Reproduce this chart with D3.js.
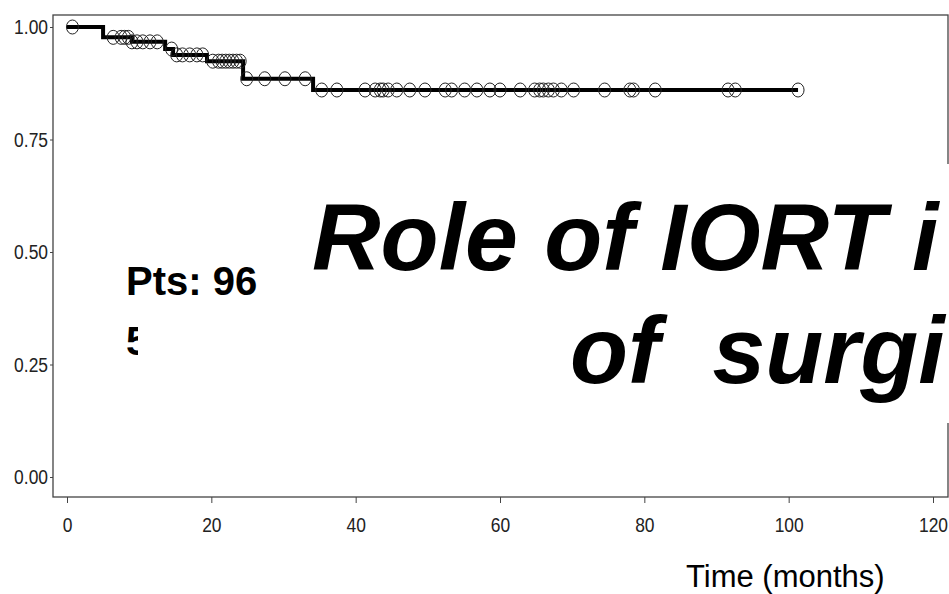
<!DOCTYPE html>
<html>
<head>
<meta charset="utf-8">
<script src="https://cdn.jsdelivr.net/npm/d3@7"></script>
<style>
  body { margin: 0; background: #fff; }
  svg { display: block; }
</style>
</head>
<body>
<div id="km_chart"></div>
<script>
// Kaplan-Meier step values
var stepTimes = [0, 5.0, 9.0, 13.6, 14.7, 19.4, 24.4, 34.1];
var survival  = [1.000, 0.977, 0.967, 0.951, 0.938, 0.924, 0.885, 0.860];
var followUpEnd = 101.3;

// censored patients (months)
var censorTimes = [0.75, 6.4, 7.5, 8.0, 8.5, 9.0, 9.7, 10.5, 11.5, 12.5, 14.5,
    15.2, 16.0, 17.0, 18.0, 18.8, 20.2, 21.0, 21.5, 22.0, 22.5, 23.0, 23.5, 24.0,
    24.9, 27.4, 30.2, 33.0, 35.3, 37.4, 41.3, 42.7, 43.4, 43.8, 44.5, 45.7, 47.5,
    49.6, 52.4, 53.3, 55.1, 56.8, 58.6, 60.0, 62.8, 64.8, 65.5, 66.0, 66.7, 67.4,
    68.5, 70.2, 74.5, 78.0, 78.5, 81.5, 91.6, 92.6, 101.3];

var xTicks = [0, 20, 40, 60, 80, 100, 120];
var yTicks = [0, 0.25, 0.5, 0.75, 1];
var xTitle = "Time (months)";
var ptsLines = ["Pts: 96", "5"];
var titleLines = ["Role of IORT i", "of  surgi"];

var width = 949, height = 594;
var svg = d3.select("#km_chart").append("svg")
    .attr("width", width)
    .attr("height", height);

var x = d3.scaleLinear().domain([0, 120]).range([67, 933]);
var y = d3.scaleLinear().domain([0, 1]).range([477, 27]);

var frame = {left: 53, top: 15, right: 948, bottom: 497};
var sans = "'Liberation Sans', Arial, sans-serif";
var narrow = 0.83; // tick labels are a condensed face, squeeze Liberation Sans

// plot frame
svg.append("rect")
    .attr("x", frame.left).attr("y", frame.top)
    .attr("width", frame.right - frame.left)
    .attr("height", frame.bottom - frame.top)
    .style("fill", "none")
    .style("stroke", "#444")
    .style("stroke-width", "1.3px");

// y axis (ticks + labels on the left of frame)
var yAxis = d3.axisLeft(y).tickValues(yTicks).tickFormat(d3.format(".2f"))
    .tickSize(3);
var gy = svg.append("g").attr("transform", "translate(" + frame.left + ",0)").call(yAxis);
gy.select(".domain").remove();
gy.selectAll("line").style("stroke", "#444");
gy.selectAll("text")
    .attr("x", 0)
    .attr("transform", "translate(-5,0) scale(" + narrow + ",1)")
    .style("font-family", sans).style("font-size", "21px").style("fill", "#222");

// x axis below the frame
var xAxis = d3.axisBottom(x).tickValues(xTicks).tickFormat(d3.format("d"))
    .tickSize(6).tickPadding(14);
var gx = svg.append("g").attr("transform", "translate(0," + frame.bottom + ")").call(xAxis);
gx.select(".domain").remove();
gx.selectAll("line").style("stroke", "#444");
gx.selectAll("text")
    .attr("transform", "scale(" + narrow + ",1)")
    .style("font-family", sans).style("font-size", "21px").style("fill", "#222");

// KM curve
var kmPoints = stepTimes.map(function(t, i) { return [t, survival[i]]; });
kmPoints.push([followUpEnd, survival[survival.length - 1]]);

var line = d3.line()
    .x(function(d) { return x(d[0]); })
    .y(function(d) { return y(d[1]); })
    .curve(d3.curveStepAfter);

svg.append("path")
    .datum(kmPoints)
    .attr("d", line)
    .style("fill", "none")
    .style("stroke", "#000")
    .style("stroke-width", "4px");

function survAt(t) {
    var s = survival[0];
    for (var i = 0; i < stepTimes.length; i++) {
        if (stepTimes[i] <= t) s = survival[i];
    }
    return s;
}

svg.selectAll(".censor")
    .data(censorTimes)
    .enter()
    .append("ellipse")
    .attr("class", "censor")
    .attr("cx", function(d) { return x(d); })
    .attr("cy", function(d) { return y(survAt(d)); })
    .attr("rx", 6)
    .attr("ry", 7)
    .style("fill", "none")
    .style("stroke", "#222")
    .style("stroke-width", "1px");

// x axis title
svg.append("text")
    .attr("x", 686).attr("y", 587)
    .style("font-family", sans)
    .style("font-size", "31px")
    .style("fill", "#000")
    .text(xTitle);

// second line of the patients box sits under the title box
svg.append("text")
    .attr("x", 126).attr("y", 355)
    .style("font-family", sans)
    .style("font-size", "40px")
    .style("font-weight", "bold")
    .text(ptsLines[1]);

// white title box overlaps the chart
svg.append("rect")
    .attr("x", 138).attr("y", 164)
    .attr("width", width - 138).attr("height", 423 - 164)
    .style("fill", "#fff");

svg.append("text")
    .attr("x", 126).attr("y", 295)
    .style("font-family", sans)
    .style("font-size", "40px")
    .style("font-weight", "bold")
    .text(ptsLines[0]);

var title = svg.append("text")
    .style("font-family", sans)
    .style("font-size", "95px")
    .style("font-weight", "bold")
    .style("font-style", "italic")
    .style("fill", "#000");
title.append("tspan").attr("x", 312).attr("y", 270).text(titleLines[0]);
title.append("tspan").attr("x", 570).attr("y", 383).style("white-space", "pre").text(titleLines[1]);
</script>
</body>
</html>
